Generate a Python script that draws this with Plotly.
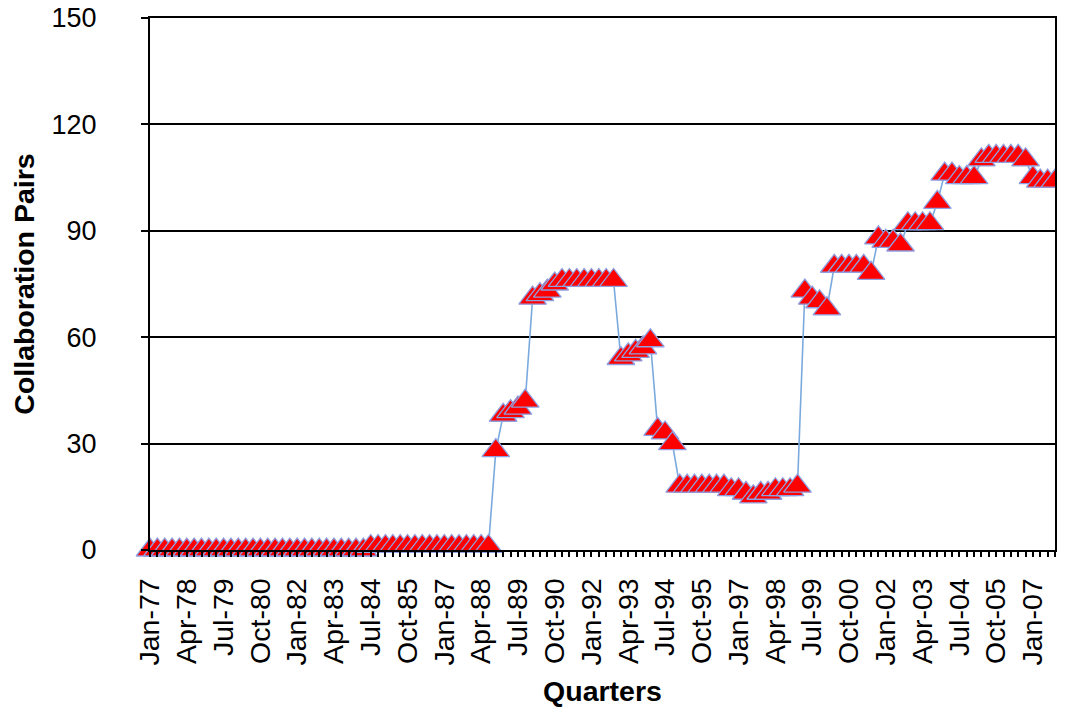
import plotly.graph_objects as go

# Quarter labels Jan-77 .. Oct-07
months = ["Jan", "Apr", "Jul", "Oct"]
quarters = []
for yr in range(1977, 2008):
    for m in months:
        quarters.append(f"{m}-{str(yr)[2:]}")

# Collaboration pairs per quarter
values = (
    [0] * 30 +                       # Jan-77 .. Apr-84
    [1] * 17 +                       # Jul-84 .. Jul-88
    [28, 38, 39, 40, 42,             # Oct-88 .. Oct-89
     71, 72, 73, 75,                 # Jan-90 .. Oct-90
     76, 76, 76, 76, 76, 76, 76, 76, # Jan-91 .. Oct-92
     54, 55, 56, 57, 59,             # Jan-93 .. Jan-94
     34, 33, 30,                     # Apr-94 .. Oct-94
     18, 18, 18, 18, 18, 18, 18, 17, 17, 16, 15, 16, 16, 17, 17, 17, 18,
     73, 71, 70, 68,                 # Apr-99 .. Jan-00
     80, 80, 80, 80, 80, 78,
     88, 87, 87, 86,
     92, 92, 92, 92,
     98,
     106, 106, 105, 105, 105,
     110, 111, 111, 111, 111, 111, 110,
     105, 104, 104, 104]
)
n = min(len(values), len(quarters))
quarters = quarters[:n]
values = values[:n]

y_ticks = [0, 30, 60, 90, 120, 150]

FONT = "Liberation Sans, Arial, sans-serif"
FS = 28.5

fig = go.Figure()
fig.add_trace(go.Scatter(
    x=quarters,
    y=values,
    mode="lines+markers",
    line=dict(color="#7AAADD", width=1.6),
    marker=dict(symbol="triangle-up", size=24, color="#FF0000",
                line=dict(color="#8F9FE0", width=1.3)),
    cliponaxis=False,
    showlegend=False,
))

# page body has an 8px margin, so the figure is sized to fit inside the window
fig.update_layout(
    width=1049, height=699,
    margin=dict(l=142, r=2, t=10, b=157),
    paper_bgcolor="white", plot_bgcolor="white",
    font=dict(family=FONT, size=FS, color="black"),
)
fig.update_xaxes(
    type="category",
    automargin=False,
    range=[0, n - 1],
    tickmode="linear", tick0=0, dtick=1, ticklabelstep=5,
    tickangle=-90,
    ticks="outside", ticklen=5, tickwidth=1.5, tickcolor="black",
    showline=True, linecolor="black", linewidth=2, mirror=True,
    showgrid=False,
    tickfont=dict(size=FS, family=FONT),
    ticklabelstandoff=10,
    ticklabeloverflow="allow",
    title=dict(text="<b>Quarters</b>", font=dict(size=FS, family=FONT), standoff=19),
)
fig.update_yaxes(
    automargin=False,
    range=[0, 150],
    tickmode="array", tickvals=y_ticks,
    ticks="outside", ticklen=7, tickwidth=2, tickcolor="black",
    showline=True, linecolor="black", linewidth=2, mirror=True,
    showgrid=True, gridcolor="black", gridwidth=2,
    zeroline=False,
    tickfont=dict(size=27, family=FONT),
    ticklabelstandoff=39,
    ticklabeloverflow="allow",
    title=dict(text="<b>Collaboration Pairs</b>", font=dict(size=FS, family=FONT), standoff=16),
)

fig.write_html("out.html")
